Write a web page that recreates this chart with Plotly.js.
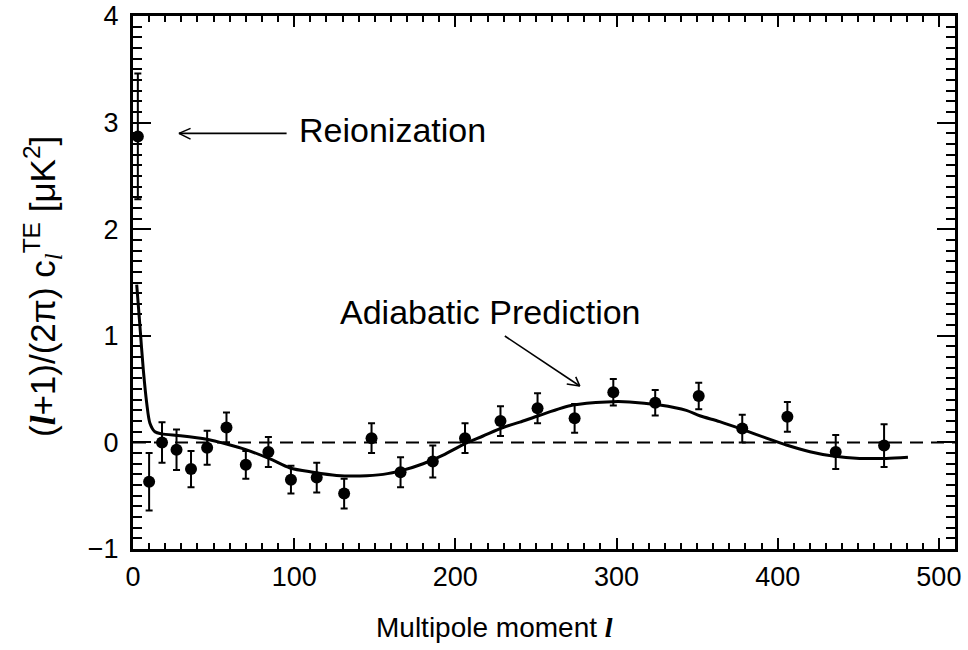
<!DOCTYPE html>
<html>
<head>
<meta charset="utf-8">
<script src="https://cdn.plot.ly/plotly-3.0.1.min.js"></script>
<style>
  html, body { margin: 0; padding: 0; background: #fff; }
  #chart { width: 968px; height: 650px; }
</style>
</head>
<body>
<div id="chart"></div>
<script>
// Measured TE cross-power band powers (multipole, value, 1-sigma error)
const ell = [3, 10, 18, 27, 36, 46, 58, 70, 84, 98, 114, 131, 148, 166, 186, 206, 228, 251, 274, 298, 324, 351, 378, 406, 436, 466];
const te  = [2.87, -0.37, 0.00, -0.07, -0.25, -0.05, 0.14, -0.21, -0.09, -0.35, -0.33, -0.48, 0.04, -0.28, -0.18, 0.04, 0.20, 0.32, 0.226, 0.47, 0.372, 0.435, 0.13, 0.24, -0.09, -0.03];
const teErr = [0.59, 0.27, 0.19, 0.19, 0.17, 0.16, 0.14, 0.13, 0.14, 0.13, 0.14, 0.14, 0.14, 0.14, 0.15, 0.14, 0.14, 0.14, 0.135, 0.125, 0.12, 0.125, 0.13, 0.14, 0.16, 0.2];

// Adiabatic model prediction
const modelEll = [2.3, 4.3, 6.4, 8.5, 10.5, 13.6, 17.8, 29.5, 45.7, 58, 70.5, 85, 97.4, 111.8, 126.3, 140.8, 155.2, 167.6, 180, 192.4, 204.8, 217.2, 229.6, 240, 252.4, 273, 293.8, 308, 326.8, 343.3, 351.6, 364, 378.5, 393, 405.4, 420, 434.3, 450.8, 467.3, 480.8];
const modelTE  = [1.48, 1.09, 0.68, 0.37, 0.18, 0.10, 0.08, 0.063, 0.03, -0.015, -0.07, -0.155, -0.24, -0.28, -0.31, -0.315, -0.30, -0.26, -0.20, -0.12, -0.02, 0.06, 0.14, 0.19, 0.255, 0.35, 0.38, 0.38, 0.35, 0.30, 0.25, 0.195, 0.12, 0.04, -0.024, -0.087, -0.128, -0.15, -0.15, -0.14];

const FONT = "'Liberation Sans', Arial, Helvetica, sans-serif";
const SERIF = "'Liberation Serif', 'Times New Roman', serif";
const ellSym = `<span style="font-family:${SERIF}"><b><i>l</i></b></span>`;
const ellSub = `<span style="font-family:${SERIF}"><i>l</i></span>`;

const traces = [
  {
    x: modelEll, y: modelTE, type: 'scatter', mode: 'lines',
    line: { color: '#000', width: 3, shape: 'spline', smoothing: 0.8 },
    hoverinfo: 'skip'
  },
  {
    x: ell, y: te, type: 'scatter', mode: 'markers',
    marker: { color: '#000', size: 12 },
    error_y: { type: 'data', array: teErr, visible: true, color: '#000', thickness: 2, width: 3.5 }
  }
];

// arrow helper: shaft plus two head strokes, in axis units
function arrow(x0, y0, x1, y1, h1, h2) {
  const s = { type: 'line', xref: 'x', yref: 'y', line: { color: '#000', width: 1.6 } };
  return [
    Object.assign({}, s, { x0: x0, y0: y0, x1: x1, y1: y1 }),
    Object.assign({}, s, { x0: x1, y0: y1, x1: h1[0], y1: h1[1] }),
    Object.assign({}, s, { x0: x1, y0: y1, x1: h2[0], y1: h2[1] })
  ];
}

const shapes = [
  { type: 'line', xref: 'paper', yref: 'y', x0: 0, x1: 1, y0: 0, y1: 0,
    line: { color: '#000', width: 2, dash: '13px,8px' }, layer: 'below' }
].concat(
  arrow(95.3, 2.899, 28.5, 2.899, [35.7, 2.946], [35.7, 2.845]),
  arrow(230.7, 0.998, 277.2, 0.529, [269.1, 0.548], [274.7, 0.614])
);

const layout = {
  width: 968, height: 650,
  margin: { l: 133, r: 13, t: 16, b: 101 },
  paper_bgcolor: '#fff', plot_bgcolor: '#fff',
  showlegend: false,
  font: { family: FONT, color: '#000', size: 27 },
  xaxis: {
    range: [0, 510], tickmode: 'linear', tick0: 0, dtick: 100,
    showgrid: false, zeroline: false,
    showline: true, linecolor: '#000', linewidth: 3, mirror: 'ticks',
    ticks: 'inside', ticklen: 11, tickwidth: 2, tickcolor: '#000',
    minor: { dtick: 10, tick0: 0, ticks: 'inside', ticklen: 6, tickwidth: 2, tickcolor: '#000', showgrid: false },
    tickfont: { size: 27 }, ticklabelstandoff: 2
  },
  yaxis: {
    range: [-1, 4], tickmode: 'linear', tick0: 0, dtick: 1,
    showgrid: false, zeroline: false,
    showline: true, linecolor: '#000', linewidth: 3, mirror: 'ticks',
    ticks: 'inside', ticklen: 18, tickwidth: 2, tickcolor: '#000',
    minor: { dtick: 0.1, tick0: 0, ticks: 'inside', ticklen: 9, tickwidth: 2, tickcolor: '#000', showgrid: false },
    tickfont: { size: 27 }, ticklabelstandoff: 6
  },
  shapes: shapes,
  annotations: [
    { text: 'Reionization', xref: 'x', yref: 'y', x: 102, y: 2.93,
      xanchor: 'left', yanchor: 'middle', showarrow: false, font: { size: 34 } },
    { text: 'Adiabatic Prediction', xref: 'x', yref: 'y', x: 127, y: 1.22,
      xanchor: 'left', yanchor: 'middle', showarrow: false, font: { size: 34 } },
    { text: 'Multipole moment ' + ellSym, xref: 'paper', yref: 'paper',
      x: (494 - 133) / 822, y: -(627 - 549) / 533, xanchor: 'center', yanchor: 'middle',
      showarrow: false, font: { size: 28 } },
    { text: '(' + ellSym + '+1)/(2\u03c0) c<sub>' + ellSub + '</sub><sup>TE</sup> [\u03bcK<sup>2</sup>]',
      xref: 'paper', yref: 'paper', x: -(133 - 42) / 822, y: (549 - 287) / 533,
      xanchor: 'center', yanchor: 'middle', textangle: -90, showarrow: false, font: { size: 35 } }
  ]
};

Plotly.newPlot('chart', traces, layout, { displayModeBar: false, staticPlot: true });
</script>
</body>
</html>
